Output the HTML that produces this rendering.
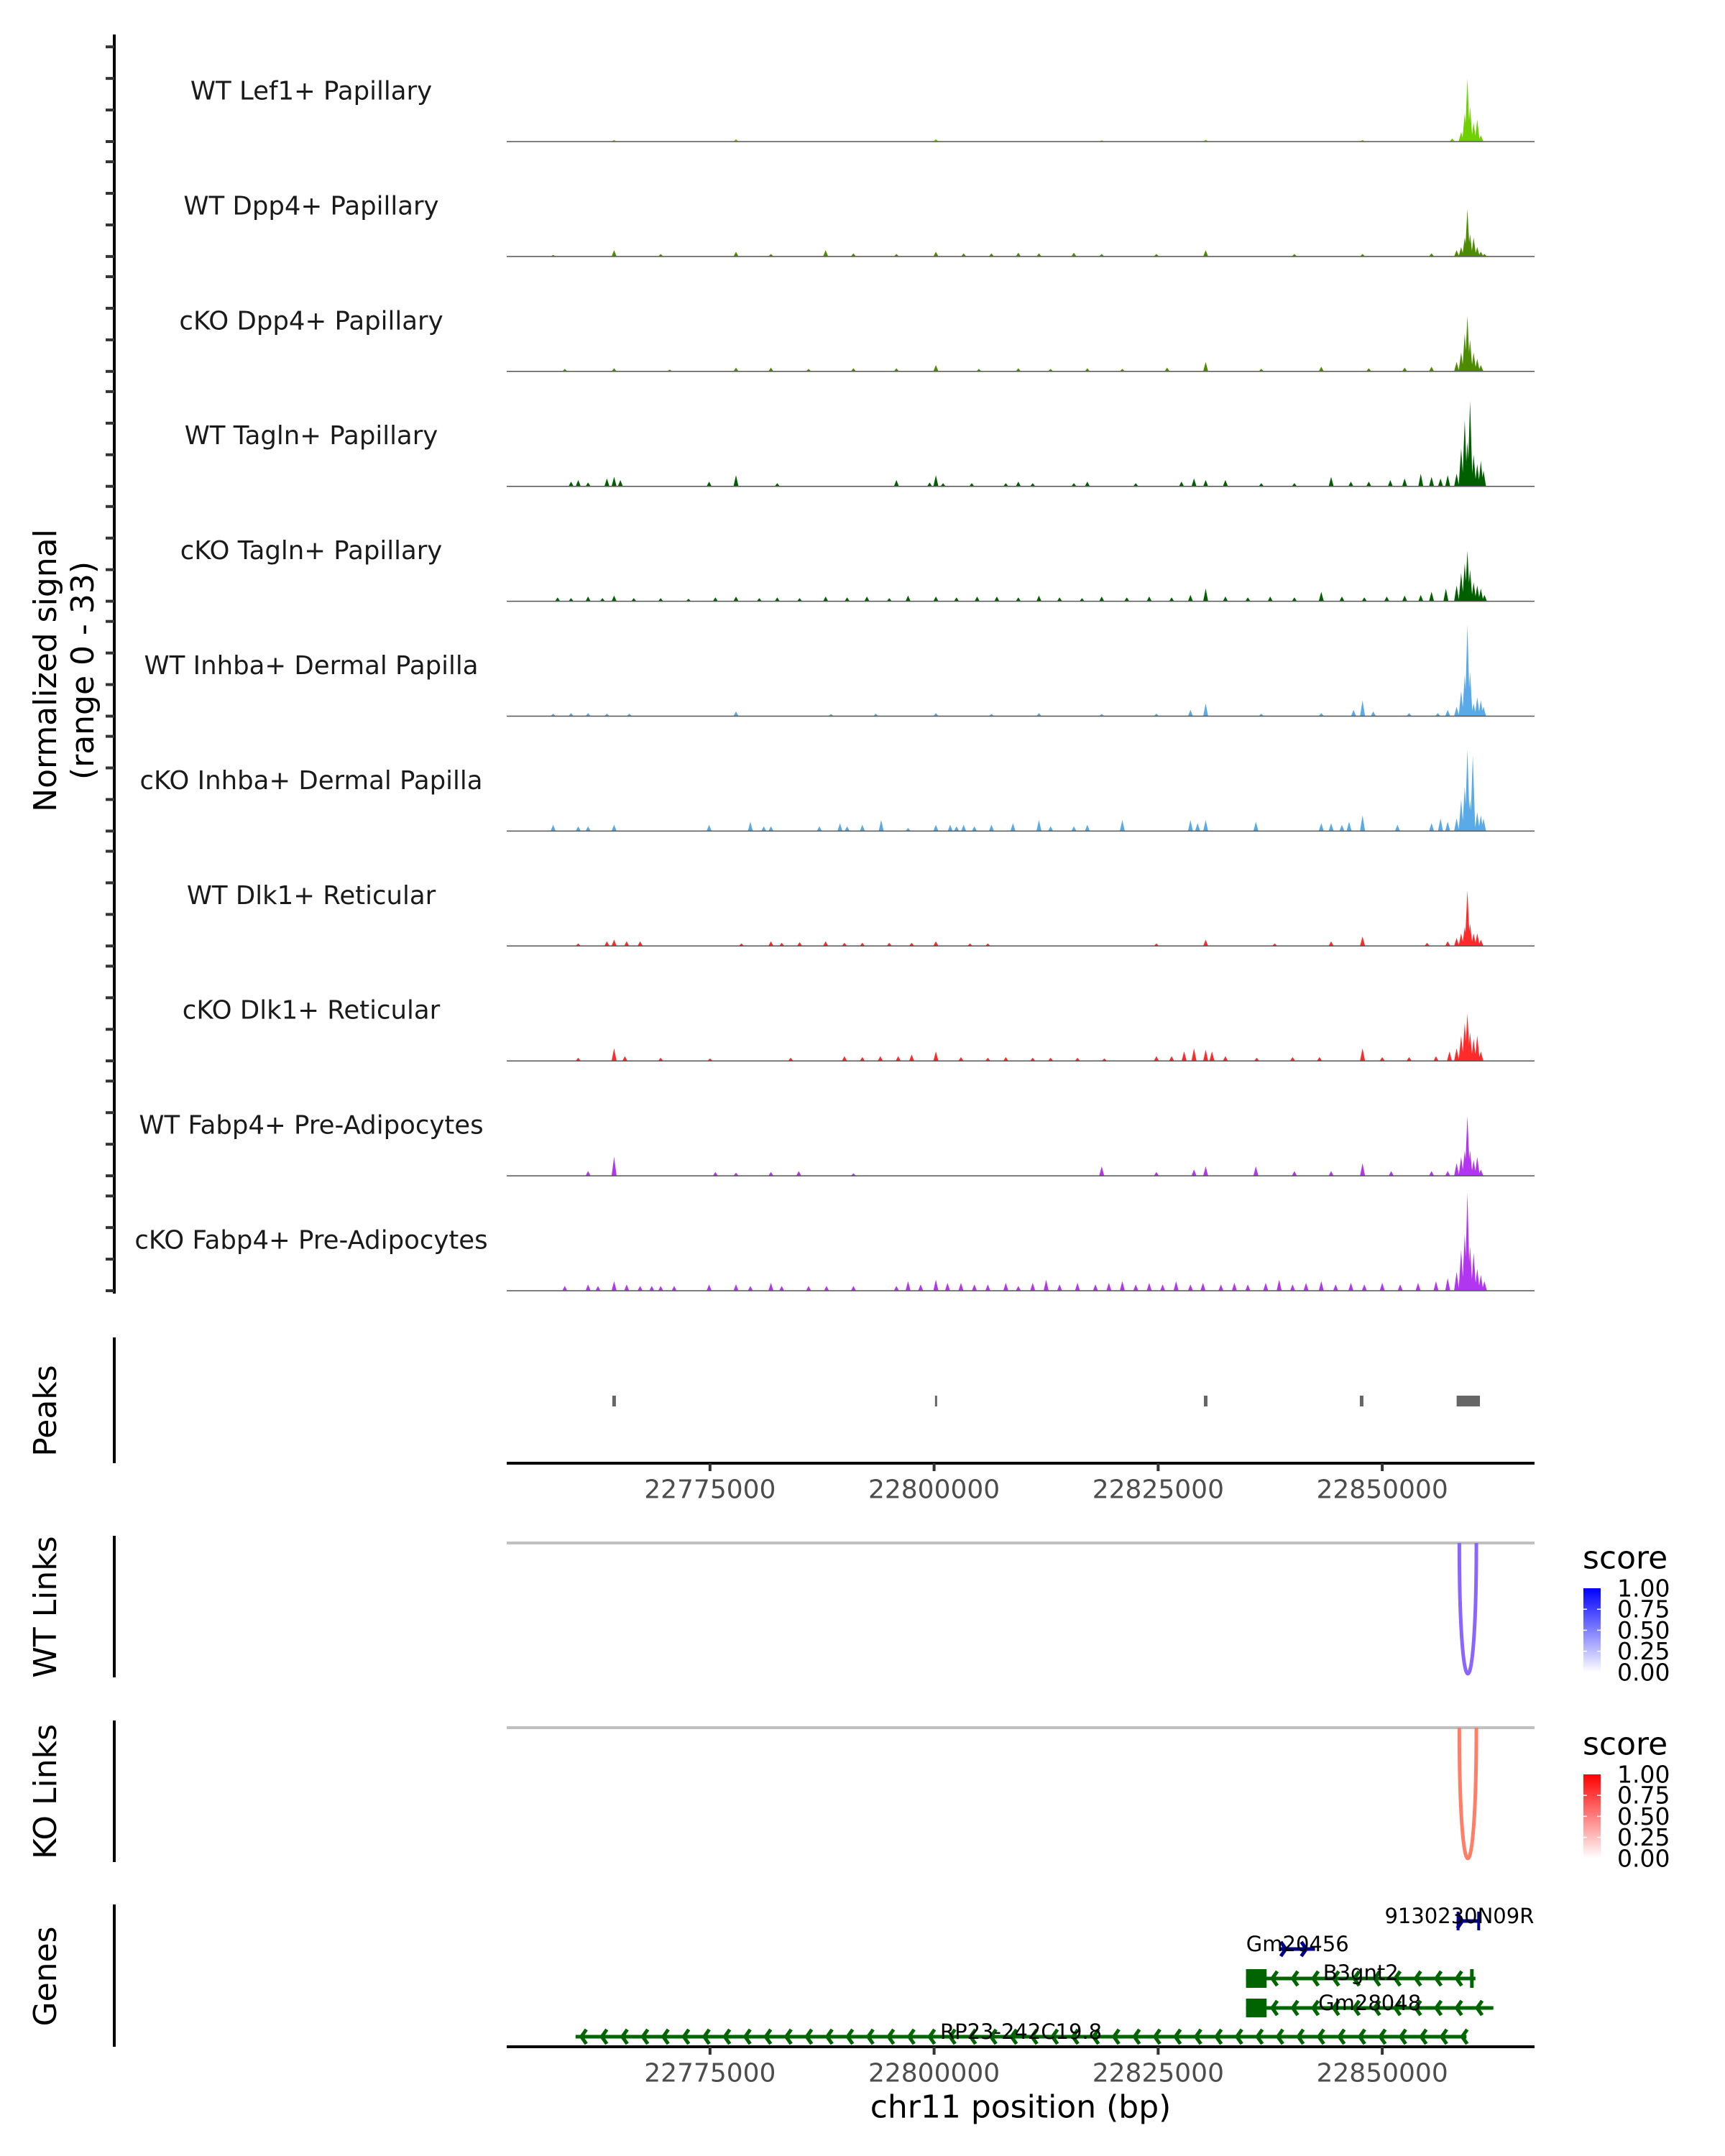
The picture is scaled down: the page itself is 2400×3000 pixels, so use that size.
<!DOCTYPE html>
<html><head><meta charset="utf-8"><style>
html,body{margin:0;padding:0;background:#fff;}
svg{display:block;font-family:"DejaVu Sans","Liberation Sans",sans-serif;}
</style></head><body>
<svg id="chart" width="2400" height="3000" viewBox="0 0 2400 3000" xmlns="http://www.w3.org/2000/svg">
<defs>
<linearGradient id="gBlue" x1="0" y1="1" x2="0" y2="0"><stop offset="0" stop-color="#ffffff"/><stop offset="1" stop-color="#0000ff"/></linearGradient>
<linearGradient id="gRed" x1="0" y1="1" x2="0" y2="0"><stop offset="0" stop-color="#ffffff"/><stop offset="1" stop-color="#ff0000"/></linearGradient>
<clipPath id="geneClip"><rect x="705" y="2640" width="1430" height="220"/></clipPath>
</defs>
<g id="tracks"></g>
<g id="lower"></g>
</svg>
<script>
// ---- data ----
const trackNames = ["WT Lef1+ Papillary","WT Dpp4+ Papillary","cKO Dpp4+ Papillary","WT Tagln+ Papillary","cKO Tagln+ Papillary","WT Inhba+ Dermal Papilla","cKO Inhba+ Dermal Papilla","WT Dlk1+ Reticular","cKO Dlk1+ Reticular","WT Fabp4+ Pre-Adipocytes","cKO Fabp4+ Pre-Adipocytes"];
const trackColors = ["#6fd000","#4d8c00","#4d8c00","#006000","#006000","#5aaae8","#5aaae8","#ff2a2a","#ff2a2a","#b236ef","#b236ef"];
const yMax = 33;
const xTicks = [22775,22800,22825,22850];
const xTickLabels = ["22775000","22800000","22825000","22850000"];
const xDomain = [22752.32, 22866.99];

const t1Pos=[22764.3,22777.9,22800.2,22818.7,22830.3,22847.8,22857.8,22858.8,22859.2,22859.5,22859.8,22860.2,22860.6,22861.0];
const t1Val=[0.5,0.8,0.8,0.4,0.6,0.5,1,3,9,20,11,6,7,2];
const t2Pos=[22757.5,22764.3,22769.5,22777.9,22781.8,22787.9,22791.0,22795.8,22800.2,22803.3,22806.4,22809.4,22811.7,22815.6,22818.7,22824.8,22830.3,22840.2,22847.8,22855.5,22858.3,22858.8,22859.2,22859.5,22859.8,22860.2,22860.6,22861.0,22861.4];
const t2Val=[0.5,2,0.8,1.5,0.8,2,1,0.8,1.5,1,1,1.2,1,1.2,0.8,0.8,2,0.8,0.8,1,2,3,6,15,7,6,3,1.5,0.8];
const t3Pos=[22758.8,22764.3,22770.5,22777.9,22781.8,22786.0,22791.0,22795.8,22800.2,22805.0,22809.4,22813.0,22817.1,22821.0,22826.0,22830.3,22836.5,22843.2,22848.5,22852.5,22855.5,22858.3,22858.8,22859.2,22859.5,22859.8,22860.2,22860.6,22861.0];
const t3Val=[0.8,1,0.6,1.2,1.2,0.8,1,1,2,0.8,1,0.8,1,0.8,1.2,3,0.8,1.5,1,1.2,1.5,3,6,12,17.6,10,6,4,2];
const t4Pos=[22759.5,22760.3,22761.4,22763.5,22764.3,22765.0,22774.9,22777.9,22782.5,22795.8,22799.5,22800.2,22801.0,22804.2,22808.0,22809.4,22811.0,22815.6,22817.1,22822.5,22827.6,22829.0,22830.3,22832.5,22836.5,22840.2,22844.3,22846.5,22848.5,22850.9,22852.5,22854.3,22855.5,22856.5,22857.3,22858.3,22858.8,22859.2,22859.5,22859.8,22860.2,22860.6,22861.0,22861.3];
const t4Val=[1.5,2,1.2,2.5,3,2,1.5,3.5,1,2,1.2,3.5,1,1,1,1.5,1,1,1.5,1,1.5,2.5,2,2,1,1,3,1.5,1.5,2,2.5,4,3,2.5,3.5,4,12,21,14,27,10,7,8,5];
const t5Pos=[22758.0,22759.5,22761.4,22763.0,22764.3,22766.5,22769.5,22772.6,22775.6,22777.9,22780.5,22782.5,22785.0,22787.9,22790.3,22792.5,22795.0,22797.1,22800.2,22802.5,22804.8,22807.0,22809.4,22811.7,22814.0,22816.5,22818.7,22821.5,22824.0,22826.5,22828.6,22830.3,22832.5,22835.0,22837.5,22840.2,22843.2,22845.5,22848.0,22850.5,22852.5,22854.3,22855.5,22857.1,22858.3,22858.8,22859.2,22859.5,22859.8,22860.2,22860.6,22861.0,22861.4];
const t5Val=[1.2,1,1.5,1,1.8,1,1,0.8,1.2,1.5,1,1.2,1,1.5,1.2,1.5,1,1.8,1.5,1.2,1.5,1.5,1.2,1.8,1.2,1,1.5,1.2,1.5,1.2,2,4,1.5,1.2,1.5,1.2,3,1.5,1.2,1.5,1.8,2,3,4,5,9,12,16,10,6,5,4,2];
const t6Pos=[22757.5,22759.5,22761.4,22763.5,22766.0,22777.9,22788.5,22793.5,22800.2,22806.4,22811.7,22818.7,22824.8,22828.6,22830.3,22836.5,22843.2,22846.8,22847.8,22849.0,22853.0,22856.2,22857.3,22858.3,22858.8,22859.2,22859.5,22859.8,22860.2,22860.6,22861.0,22861.3];
const t6Val=[0.8,1,1,0.8,0.8,1.5,0.7,0.8,1,0.7,1,0.7,0.8,2,4,0.8,1,2,5,1.5,1,1,2,3,8,13,29,14,4,6,5,3];
const t7Pos=[22757.5,22760.3,22761.4,22764.3,22774.9,22779.5,22781.0,22781.8,22787.2,22789.5,22790.3,22792.0,22794.1,22797.1,22800.2,22801.8,22802.5,22803.3,22804.5,22806.4,22808.8,22811.7,22813.0,22815.6,22817.1,22821.0,22828.6,22829.4,22830.3,22835.9,22843.2,22844.3,22845.5,22846.3,22847.8,22851.7,22855.5,22856.5,22857.3,22858.3,22858.8,22859.2,22859.5,22859.8,22860.1,22860.6,22861.0,22861.3];
const t7Val=[2,1.5,1.5,2,2,3,1.5,1.5,1.5,2.5,1.5,2,3.5,1,2,2,1.5,2,1.5,2,2.5,3.5,1.5,1.5,2,3.5,3.5,2.5,3.5,3,2.5,2.5,2,3,5,2,2.5,4,3,4,10,14,26,10,24,6,5,4];
const t8Pos=[22760.3,22763.5,22764.3,22765.7,22767.2,22778.5,22781.8,22783.0,22785.0,22787.9,22790.0,22792.0,22795.0,22797.5,22800.2,22804.0,22806.0,22824.8,22830.3,22838.0,22844.3,22847.8,22855.0,22857.3,22858.3,22858.8,22859.2,22859.5,22859.8,22860.2,22860.6,22861.0];
const t8Val=[0.8,1.5,2,1.5,1.5,0.8,1.5,1,1.2,1.5,1,1,1,1,1.5,0.8,0.8,0.8,2,0.8,1.5,3,1,1.5,2.5,4,6,17.6,7,4,4,2];
const t9Pos=[22760.3,22764.3,22765.5,22769.5,22775.0,22784.0,22790.0,22792.0,22794.0,22796.0,22797.5,22800.2,22803.0,22806.0,22808.0,22811.0,22813.0,22816.0,22819.0,22824.8,22826.5,22827.9,22829.0,22830.3,22831.0,22832.5,22836.0,22840.0,22843.0,22847.8,22850.0,22853.0,22856.0,22857.5,22858.3,22858.8,22859.2,22859.5,22859.8,22860.2,22860.6,22861.0];
const t9Val=[1,4,1.5,1,0.8,1,1.5,1.2,1.5,1.5,2,3,1.2,1,1.2,1,1,1,0.8,1.5,1.5,3,4,3.5,3,1.5,1,1.2,1.2,4,1.2,1.2,1.5,3,4,8,12,15,9,7,8,3];
const t10Pos=[22761.4,22764.3,22775.6,22777.9,22781.8,22784.9,22791.0,22818.7,22824.8,22829.0,22830.3,22835.9,22840.2,22844.3,22847.8,22851.0,22855.5,22857.3,22858.3,22858.8,22859.2,22859.5,22859.8,22860.2,22860.6,22861.0];
const t10Val=[1.5,6,1.2,1,1.2,1.5,0.8,3,1.2,2,3,3,1.5,1.5,4,1.5,1.5,1.5,4,6,8,19,8,5,6,2];
const t11Pos=[22758.8,22761.4,22762.5,22764.3,22765.7,22767.2,22768.5,22769.5,22771.0,22774.9,22777.9,22779.5,22781.8,22783.0,22786.0,22788.0,22791.0,22795.8,22797.1,22798.5,22800.2,22801.5,22803.0,22804.5,22806.0,22808.0,22809.4,22811.0,22812.5,22814.0,22816.0,22818.0,22819.5,22821.0,22822.5,22824.0,22825.5,22827.0,22828.6,22830.0,22832.0,22833.5,22835.0,22837.0,22838.5,22840.0,22841.5,22843.2,22844.8,22846.5,22848.0,22850.0,22852.0,22854.0,22856.0,22857.3,22858.3,22858.8,22859.2,22859.5,22859.8,22860.2,22860.6,22861.0,22861.4];
const t11Val=[1.5,2,1.5,3,2,1.5,1.5,1.5,1.5,2,2,1.5,2.5,1.5,1.5,1.5,1.5,1.5,3,2,3.5,2.5,2.5,2,2,2.5,1.5,2.5,3.5,2,2.5,2,2.5,3,2,2.5,2,3,2,2.5,2,2.5,2,2.5,3.5,2,2.5,3,2,2.5,2,2.5,2,2.5,3,4,6,13,18,31,14,12,7,5,3];
const trackPos=[t1Pos,t2Pos,t3Pos,t4Pos,t5Pos,t6Pos,t7Pos,t8Pos,t9Pos,t10Pos,t11Pos];
const trackVal=[t1Val,t2Val,t3Val,t4Val,t5Val,t6Val,t7Val,t8Val,t9Val,t10Val,t11Val];

const peakStart=[22764.1,22800.1,22830.1,22847.5,22858.3];
const peakEnd=[22764.5,22800.3,22830.5,22847.9,22860.9];

const linkStart=[22858.6];
const linkEnd=[22860.5];
const linkScoreWT=[0.6];
const linkScoreKO=[0.6];

const geneNames=["9130230N09Rik","Gm20456","B3gnt2","Gm28048","RP23-242C19.8"];
const geneStart=[22858.3,22838.6,22834.8,22834.8,22760.0];
const geneEnd=[22860.9,22842.5,22860.4,22862.4,22859.4];
const geneStrand=["+","+","-","-","-"];
const geneColor=["#00008b","#00008b","#006400","#006400","#006400"];
const geneRow=[0,1,2,3,4];
const exonGene=[0,0,2,2,3];
const exonStart=[22858.3,22860.6,22834.8,22859.8,22834.8];
const exonEnd=[22858.5,22860.9,22837.1,22860.2,22837.1];

// ---- scales ----
const X0=705, X1=2135;
function xs(kb){ return X0 + (kb - xDomain[0])/(xDomain[1]-xDomain[0])*(X1-X0); }
const base0=197, trackStep=159.9, trackH=145;
function ys(i,v){ return base0 + i*trackStep - v/yMax*trackH; }

const NS="http://www.w3.org/2000/svg";
function mk(tag, attrs, parent){ const e=document.createElementNS(NS,tag); for(const k in attrs) e.setAttribute(k,attrs[k]); parent.appendChild(e); return e; }
const gT=document.getElementById('tracks');
const gL=document.getElementById('lower');

let ax=mk('line',{x1:159,y1:48,x2:159,y2:1800,stroke:'#000','stroke-width':4},gT);


for(let i=0;i<trackNames.length;i++){
  for(let k=0;k<=30;k+=10){
    const y=ys(i,k);
    let tk=mk('line',{x1:147,y1:y,x2:159,y2:y,stroke:'#333','stroke-width':4},gT);
    
    
  }
}
let yt=mk('text',{x:0,y:0,'font-size':44,'text-anchor':'middle',fill:'#000',transform:'translate(78,933) rotate(-90)'},gT);
yt.textContent='Normalized signal';


let yt2=mk('text',{x:0,y:0,'font-size':44,'text-anchor':'middle',fill:'#000',transform:'translate(130,933) rotate(-90)'},gT);
yt2.textContent='(range 0 - 33)';



const hw=0.28;
for(let i=0;i<trackNames.length;i++){
  const g=mk('g',{},gT);
  
  
  const base=ys(i,0);
  let d='';
  const P=trackPos[i], V=trackVal[i];
  for(let j=0;j<P.length;j++){
    d+='M'+xs(P[j]-hw).toFixed(1)+','+base+'L'+xs(P[j]).toFixed(1)+','+ys(i,V[j]).toFixed(1)+'L'+xs(P[j]+hw).toFixed(1)+','+base+'Z';
  }
  let sig=mk('path',{d:d,fill:trackColors[i]},g);
  
  
  let bl=mk('line',{x1:X0,y1:base,x2:X1,y2:base,stroke:'#555','stroke-width':1.5},g);
  
  
  let lb=mk('text',{x:433,y:ys(i,0)-70,'font-size':35.5,'text-anchor':'middle','dominant-baseline':'central',fill:'#1a1a1a'},g);
  lb.textContent=trackNames[i];
  
  
}

function panelAxis(y1,y2,title,ty){
  let a=mk('line',{x1:159,y1:y1,x2:159,y2:y2,stroke:'#000','stroke-width':4},gL);
  
  
  let t=mk('text',{x:0,y:0,'font-size':44,'text-anchor':'middle',fill:'#000',transform:'translate(78,'+ty+') rotate(-90)'},gL);
  t.textContent=title;
  
  
}
function xAxis(y,name){
  let l=mk('line',{x1:X0,y1:y,x2:X1,y2:y,stroke:'#000','stroke-width':4},gL);
  
  
  for(let k=0;k<xTicks.length;k++){
    const x=xs(xTicks[k]);
    let tk=mk('line',{x1:x,y1:y,x2:x,y2:y+11,stroke:'#333','stroke-width':4},gL);
    
    
    let tl=mk('text',{x:x,y:y+37,'font-size':36,'text-anchor':'middle','dominant-baseline':'central',fill:'#4d4d4d'},gL);
    tl.textContent=xTickLabels[k];
    
    
  }
}

panelAxis(1861,2036,'Peaks',1963);
for(let k=0;k<peakStart.length;k++){
  let r=mk('rect',{x:xs(peakStart[k]),y:1942,width:Math.max(3,xs(peakEnd[k])-xs(peakStart[k])),height:15,fill:'#666'},gL);
  
  
}
xAxis(2036,'peaks-x-axis');

function linksPanel(top,bottom,title,ty,scores,grad,lowC,highC,legY){
  panelAxis(top,bottom,title,ty);
  const ly=top+10;
  let gl=mk('line',{x1:X0,y1:ly,x2:X1,y2:ly,stroke:'#c0c0c0','stroke-width':4},gL);
  
  
  for(let k=0;k<linkStart.length;k++){
    const a=xs(linkStart[k]), b=xs(linkEnd[k]);
    const depth=(bottom-5-ly)/0.75;
    const s=scores[k];
    const c=[0,1,2].map(j=>Math.round(lowC[j]+(highC[j]-lowC[j])*s));
    let arc=mk('path',{d:'M'+a+','+ly+' C'+a+','+(ly+depth)+' '+b+','+(ly+depth)+' '+b+','+ly,fill:'none',stroke:'rgb('+c.join(',')+')','stroke-width':5},gL);
    
    
  }
  const lg=mk('g',{},gL);
  
  
  let st=mk('text',{x:2202,y:legY,'font-size':44,'dominant-baseline':'central',fill:'#000'},lg);
  st.textContent='score';
  
  
  let bar=mk('rect',{x:2203,y:legY+42,width:24,height:117,fill:'url(#'+grad+')'},lg);
  
  
  const labs=['1.00','0.75','0.50','0.25','0.00'];
  for(let k=0;k<5;k++){
    const y=legY+42+k*29.2;
    if(k>0&&k<4){
      mk('line',{x1:2203,y1:y,x2:2208,y2:y,stroke:'#fff','stroke-width':1.5},lg);
      mk('line',{x1:2222,y1:y,x2:2227,y2:y,stroke:'#fff','stroke-width':1.5},lg);
    }
    let t=mk('text',{x:2250,y:y,'font-size':33,'dominant-baseline':'central',fill:'#000'},lg);
    t.textContent=labs[k];
    
    
  }
}
linksPanel(2137,2334,'WT Links',2236,linkScoreWT,'gBlue',[255,255,255],[60,0,255],2168);
linksPanel(2394,2591,'KO Links',2493,linkScoreKO,'gRed',[255,255,255],[255,40,0],2427);

panelAxis(2650,2848,'Genes',2750);
const rowY=[2673,2712,2753,2794,2834];
const rowLabY=[2666,2705,2745,2787,2827];
const gg=mk('g',{'clip-path':'url(#geneClip)'},gL);
for(let k=0;k<geneNames.length;k++){
  const g=mk('g',{},gg);
  
  
  const y=rowY[geneRow[k]], a=xs(geneStart[k]), b=xs(geneEnd[k]), col=geneColor[k];
  mk('line',{x1:a,y1:y,x2:b,y2:y,stroke:col,'stroke-width':5},g);
  const dir=geneStrand[k]==='+'?1:-1;
  let cd='';
  for(let x=a+8;x<=b-4;x+=28.5){
    cd+='M'+(x-dir*7)+','+(y-10)+'L'+x+','+y+'L'+(x-dir*7)+','+(y+10);
  }
  mk('path',{d:cd,fill:'none',stroke:col,'stroke-width':5},g);
  for(let e=0;e<exonGene.length;e++){
    if(exonGene[e]!==k) continue;
    mk('rect',{x:xs(exonStart[e]),y:y-13,width:Math.max(4,xs(exonEnd[e])-xs(exonStart[e])),height:26,fill:col},g);
  }
  let lt=mk('text',{x:(a+b)/2,y:rowLabY[geneRow[k]],'font-size':29,'text-anchor':'middle','dominant-baseline':'central',fill:'#000'},g);
  lt.textContent=geneNames[k];
  
  
}
xAxis(2848,'genes-x-axis');
let xt=mk('text',{x:1420,y:2932,'font-size':44,'text-anchor':'middle','dominant-baseline':'central',fill:'#000'},gL);
xt.textContent='chr11 position (bp)';


</script>
</body></html>
